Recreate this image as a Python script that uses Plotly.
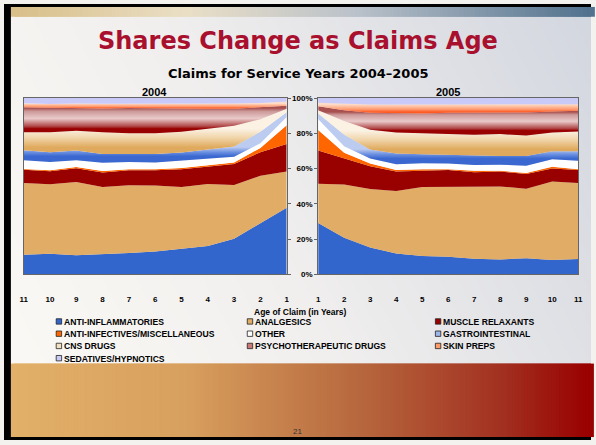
import numpy as np
import plotly.graph_objects as go
from plotly.colors import sample_colorscale

W, H = 596, 445

# ---------------- DATA ----------------
ages = [1, 2, 3, 4, 5, 6, 7, 8, 9, 10, 11]
age_labels = [str(a) for a in ages]
categories = ["ANTI-INFLAMMATORIES", "ANALGESICS", "MUSCLE RELAXANTS",
              "ANTI-INFECTIVES/MISCELLANEOUS", "OTHER", "GASTROINTESTINAL",
              "CNS DRUGS", "PSYCHOTHERAPEUTIC DRUGS", "SKIN PREPS",
              "SEDATIVES/HYPNOTICS"]
pct_ticks = [0, 20, 40, 60, 80, 100]
pct_labels = ["0%", "20%", "40%", "60%", "80%", "100%"]

# shares (%) by age of claim 1..11, service year 2004
anti_inflam_2004 = [37.8, 29.0, 20.2, 16.1, 14.4, 13.0, 12.2, 11.5, 10.9, 11.7, 11.1]
analgesics_2004 = [20.5, 26.9, 30.5, 35.2, 35.2, 37.4, 38.4, 38.1, 41.5, 39.4, 40.8]
muscle_relax_2004 = [15.6, 13.4, 11.9, 9.8, 10.0, 8.7, 8.5, 8.2, 7.8, 7.4, 7.4]
anti_infect_2004 = [10.7, 2.4, 0.9, 0.9, 0.8, 0.5, 0.5, 0.9, 0.7, 0.6, 0.5]
other_2004 = [4.7, 2.7, 3.2, 3.7, 3.9, 3.9, 4.1, 4.6, 3.9, 4.6, 5.0]
gastro_2004 = [2.7, 6.5, 5.9, 5.0, 4.8, 4.8, 4.4, 5.0, 5.4, 5.6, 5.6]
cns_2004 = [1.9, 7.1, 11.7, 11.7, 11.8, 11.7, 11.9, 12.3, 11.3, 11.3, 10.2]
psycho_2004 = [1.8, 6.6, 9.6, 11.5, 13.2, 14.1, 14.3, 13.5, 12.9, 13.7, 14.2]
skin_2004 = [2.3, 2.6, 3.0, 2.9, 2.7, 2.7, 2.5, 2.7, 2.5, 2.4, 2.2]
sedative_2004 = [2.0, 2.8, 3.1, 3.2, 3.2, 3.2, 3.2, 3.2, 3.1, 3.3, 3.0]

# shares (%) by age of claim 1..11, service year 2005
anti_inflam_2005 = [29.1, 20.8, 15.2, 11.9, 10.4, 10.0, 8.9, 8.5, 9.1, 8.2, 8.7]
analgesics_2005 = [22.3, 30.2, 33.2, 35.4, 39.1, 39.5, 40.6, 41.4, 39.5, 44.5, 43.1]
muscle_relax_2005 = [18.9, 14.9, 13.0, 11.1, 9.3, 9.7, 8.4, 8.4, 8.4, 7.4, 7.4]
anti_infect_2005 = [11.6, 3.1, 1.5, 0.8, 0.9, 0.5, 0.9, 0.5, 0.5, 0.9, 0.5]
other_2005 = [6.2, 3.7, 2.8, 3.3, 3.4, 3.2, 3.2, 3.4, 4.1, 4.3, 4.7]
gastro_2005 = [3.2, 6.5, 5.2, 6.0, 5.0, 4.8, 5.5, 5.0, 5.6, 4.6, 5.5]
cns_2005 = [1.8, 7.8, 11.1, 12.0, 12.0, 11.9, 11.7, 12.4, 11.5, 10.6, 11.2]
psycho_2005 = [2.3, 6.1, 9.7, 10.8, 11.2, 12.1, 12.5, 12.2, 13.1, 11.9, 11.7]
skin_2005 = [2.0, 3.6, 4.6, 5.0, 5.0, 4.7, 4.7, 4.6, 4.6, 4.1, 3.7]
sedative_2005 = [2.6, 3.3, 3.7, 3.7, 3.7, 3.6, 3.6, 3.6, 3.6, 3.5, 3.5]

series_2004 = [anti_inflam_2004, analgesics_2004, muscle_relax_2004, anti_infect_2004,
               other_2004, gastro_2004, cns_2004, psycho_2004, skin_2004, sedative_2004]
series_2005 = [anti_inflam_2005, analgesics_2005, muscle_relax_2005, anti_infect_2005,
               other_2005, gastro_2005, cns_2005, psycho_2005, skin_2005, sedative_2005]

# ---------------- STYLE ----------------
solid = ["#3366CC", "#E0AC66", "#990000", "#FF6600", "#FFFFFF",
         None, None, None, None, "#CACAF8"]
gradients = {
    5: [[0, "#3A68D0"], [0.45, "#6C90E0"], [1, "#BCCBF0"]],
    6: [[0, "#E0AA5E"], [0.5, "#F0D4A8"], [1, "#FBF2E4"]],
    7: [[0, "#990000"], [0.12, "#B04848"], [0.5, "#EACACA"], [0.85, "#CC9898"], [1, "#A85050"]],
    8: [[0, "#FF5A22"], [0.35, "#FF9A70"], [1, "#FFDCC8"]],
}
legend_colors = ["#3366CC", "#E0AC66", "#990000", "#FF6600", "#FFFFFF",
                 "#9DB6EA", "#F2E0C0", "#C87878", "#FF9A6A", "#CACAF8"]

AX_FONT = dict(family="Arial, Liberation Sans", size=8, color="#000000", weight=700)


def px(x):
    return x / W


def py(y):
    return 1 - y / H


fig = go.Figure()

# slide background (diagonal soft gradient) on the base subplot
gx = np.linspace(0, 1, 30)
gy = np.linspace(0, 1, 30)
GX, GY = np.meshgrid(gx, gy)
fig.add_trace(go.Heatmap(x=gx, y=gy, z=0.72 * GX + 0.28 * GY, zsmooth="best",
                         colorscale=[[0, "#FCFAF5"], [0.45, "#F1EFEE"], [1, "#D2D6DF"]],
                         showscale=False, hoverinfo="skip", xaxis="x", yaxis="y"))

# stacked areas
for series, xa, ya, grp in [(series_2004, "x2", "y2", "s2004"), (series_2005, "x3", "y3", "s2005")]:
    cum = np.cumsum(np.array(series, dtype=float), axis=0)
    for i, (name, vals) in enumerate(zip(categories, series)):
        kw = {}
        if i in gradients:
            lo = cum[i - 1].mean() if i > 0 else 0.0
            hi = cum[i].mean()
            kw["fillgradient"] = dict(type="vertical", colorscale=gradients[i], start=lo, stop=hi)
        else:
            kw["fillcolor"] = solid[i]
        fig.add_trace(go.Scatter(x=ages, y=vals, name=name, stackgroup=grp,
                                 mode="lines", line=dict(width=0),
                                 xaxis=xa, yaxis=ya, showlegend=False,
                                 hoverinfo="skip", **kw))

shapes = []
# top decorative bar
NT = 150
tb = sample_colorscale([[0, "#D8BE88"], [0.3, "#EADFC6"], [0.6, "#B9C1CA"], [1, "#52728E"]],
                       list(np.linspace(0, 1, NT)))
for k, c in enumerate(tb):
    shapes.append(dict(type="rect", xref="paper", yref="paper", layer="above",
                       x0=px(7 + k * (W - 7) / NT), x1=px(7 + (k + 2) * (W - 7) / NT),
                       y0=py(13), y1=py(3), fillcolor=c, line_width=0))
# bottom decorative band
NB = 200
bb = sample_colorscale([[0, "#E2B068"], [0.3, "#D8A05E"], [0.6, "#B7683E"], [0.85, "#A23020"], [1, "#990000"]],
                       list(np.linspace(0, 1, NB)))
for k, c in enumerate(bb):
    shapes.append(dict(type="rect", xref="paper", yref="paper", layer="above",
                       x0=px(7 + k * (W - 7) / NB), x1=px(7 + (k + 2) * (W - 7) / NB),
                       y0=py(442), y1=py(367), fillcolor=c, line_width=0))
# black frame
shapes += [
    dict(type="rect", xref="paper", yref="paper", layer="above", x0=0, x1=px(7), y0=0, y1=1,
         fillcolor="#000000", line_width=0),
    dict(type="rect", xref="paper", yref="paper", layer="above", x0=0, x1=1, y0=py(3), y1=1,
         fillcolor="#000000", line_width=0),
    dict(type="rect", xref="paper", yref="paper", layer="above", x0=0, x1=1, y0=0, y1=py(442),
         fillcolor="#000000", line_width=0),
]


def label(text, x, y, font, xanchor="center"):
    return dict(text=text, x=px(x), y=py(y), xref="paper", yref="paper", showarrow=False,
                xanchor=xanchor, yanchor="middle", font=font)


annotations = [
    label("Shares Change as Claims Age", 298, 38,
          dict(family="DejaVu Sans", size=24, color="#A8102E", weight=700)),
    label("Claims for Service Years 2004\u20132005", 299, 71,
          dict(family="DejaVu Sans", size=13, color="#000000", weight=700)),
    label("2004", 153, 90, dict(family="Arial, Liberation Sans", size=11, color="#000000", weight=700)),
    label("2005", 451, 90, dict(family="Arial, Liberation Sans", size=11, color="#000000", weight=700)),
    label("Age of Claim (in Years)", 301, 314,
          dict(family="Arial, Liberation Sans", size=8.5, color="#000000", weight=700)),
    label("21", 298, 436, dict(family="Arial, Liberation Sans", size=8, color="#333333")),
]

# legend (3 columns)
col_x = [53, 247, 438]
row_y = [324, 336.5, 349, 361.5]
for i, name in enumerate(categories):
    r, c = divmod(i, 3)
    x0, yc = col_x[c], row_y[r]
    shapes.append(dict(type="rect", xref="paper", yref="paper", layer="above",
                       x0=px(x0), x1=px(x0 + 5.5), y0=py(yc + 2.75), y1=py(yc - 2.75),
                       fillcolor=legend_colors[i], line=dict(color="#222222", width=0.8)))
    annotations.append(label(name, x0 + 6, yc + 0.5,
                             dict(family="Arial, Liberation Sans", size=8.6, color="#000000", weight=700),
                             xanchor="left"))

ydom = [py(276), py(96)]
common_y = dict(range=[0, 100], tickvals=pct_ticks, ticktext=pct_labels, showgrid=False, zeroline=False,
                showline=True, mirror=True, linecolor="#666666", linewidth=1,
                ticks="outside", ticklen=3, tickcolor="#666666", tickfont=AX_FONT, domain=ydom)
common_x = dict(tickvals=ages, ticktext=age_labels, showgrid=False, zeroline=False,
                showline=True, mirror=True, linecolor="#666666", linewidth=1,
                ticks="", tickfont=AX_FONT, ticklabelstandoff=17)

fig.update_layout(
    width=W, height=H, margin=dict(l=0, r=0, t=0, b=0),
    paper_bgcolor="#F4F2EE", plot_bgcolor="rgba(0,0,0,0)",
    showlegend=False,
    xaxis=dict(domain=[0, 1], range=[0, 1], visible=False, fixedrange=True),
    yaxis=dict(domain=[0, 1], range=[0, 1], visible=False, fixedrange=True),
    xaxis2=dict(domain=[px(20), px(287)], range=[11, 1], anchor="y2", **common_x),
    yaxis2=dict(anchor="x2", side="right", showticklabels=False, **common_y),
    xaxis3=dict(domain=[px(319), px(583)], range=[1, 11], anchor="y3", **common_x),
    yaxis3=dict(anchor="x3", side="left", showticklabels=True, **common_y),
    shapes=shapes, annotations=annotations,
)

fig.write_html("out.html", config={"displayModeBar": False},
               post_script="document.body.style.margin='0';document.body.style.overflow='hidden';")
